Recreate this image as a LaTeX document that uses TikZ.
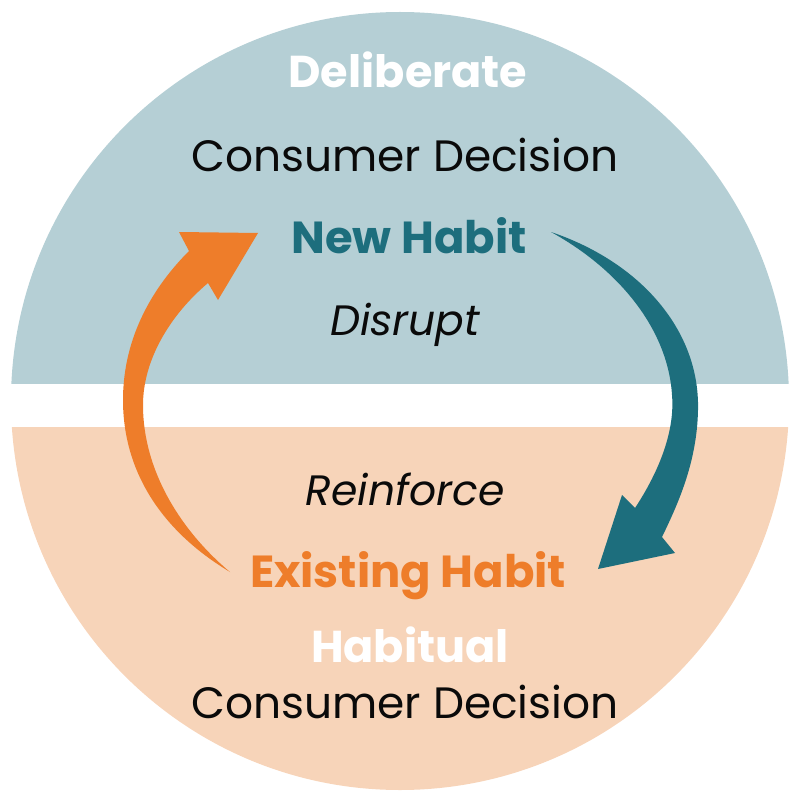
\documentclass[tikz,border=0pt]{standalone}
\usepackage{fontspec}
\setmainfont{Poppins}
\usetikzlibrary{calc}
\definecolor{HabitUpper}{HTML}{B5CFD5}
\definecolor{HabitLower}{HTML}{F7D4B9}
\definecolor{HabitTeal}{HTML}{1D6E7D}
\definecolor{HabitOrange}{HTML}{EE7D2A}
\definecolor{HabitInk}{HTML}{0A0A0A}
\tikzset{
    habit/diagram/.style={
        x=1pt, y=-1pt,
        every node/.style={inner sep=0pt, outer sep=0pt, anchor=base}
    },
    habit/mode/.style={font=\fontsize{44.6}{44.6}\selectfont\bfseries, text=white},
    habit/decision/.style={font=\fontsize{43.9}{43.9}\selectfont, text=HabitInk},
    habit/state/.style={font=\fontsize{44.9}{44.9}\selectfont\bfseries},
    habit/action/.style={font=\fontsize{42.5}{42.5}\selectfont\itshape, text=HabitInk},
    habit/sweep/.style={draw=none}
}

\begin{document}
\begin{tikzpicture}[habit/diagram]
    \useasboundingbox (0,0) rectangle (789,794);
    % two halves of the same disc, split by a white band
    \begin{scope}
        \clip (0,0) rectangle (789,383);
        \fill[HabitUpper] (400,401) circle (389pt);
    \end{scope}
    \begin{scope}
        \clip (0,427) rectangle (789,794);
        \fill[HabitLower] (400,401) circle (389pt);
    \end{scope}

    \node[habit/mode] (deliberate) at (408,88) {Deliberate};
    \node[habit/decision] (decisionTop) at (405,172) {Consumer Decision};
    \node[habit/state, text=HabitTeal] (newHabit) at (409,253) {New Habit};
    \node[habit/action] (disrupt) at (405,335) {Disrupt};
    \node[habit/action] (reinforce) at (405,505) {Reinforce};
    \node[habit/state, text=HabitOrange] (existingHabit) at (408,587) {Existing Habit};
    \node[habit/mode] (habitual) at (410,662) {Habitual};
    \node[habit/decision] (decisionBottom) at (405,718) {Consumer Decision};

    \coordinate (disruptTail) at (551,232);
    \coordinate (disruptTip) at (598,569);
    \coordinate (reinforceTail) at (230,572);
    \coordinate (reinforceTip) at (258,233);

    \fill[HabitTeal, habit/sweep] (disruptTail)
        .. controls (640,262) and (700,330) .. (698,410)
        .. controls (697,460) and (680,500) .. (662,537)
        -- (675,553) -- (disruptTip) -- (622,495) -- (635,508)
        .. controls (660,470) and (675,430) .. (672,395)
        .. controls (668,330) and (620,270) .. (disruptTail) -- cycle;

    \fill[HabitOrange, habit/sweep] (reinforceTail)
        .. controls (160,530) and (123,470) .. (123,400)
        .. controls (123,335) and (155,285) .. (189,251)
        -- (179,232) -- (reinforceTip) -- (218,300) -- (208,283)
        .. controls (170,315) and (143,360) .. (143,405)
        .. controls (143,470) and (180,530) .. (reinforceTail) -- cycle;
\end{tikzpicture}
\end{document}
